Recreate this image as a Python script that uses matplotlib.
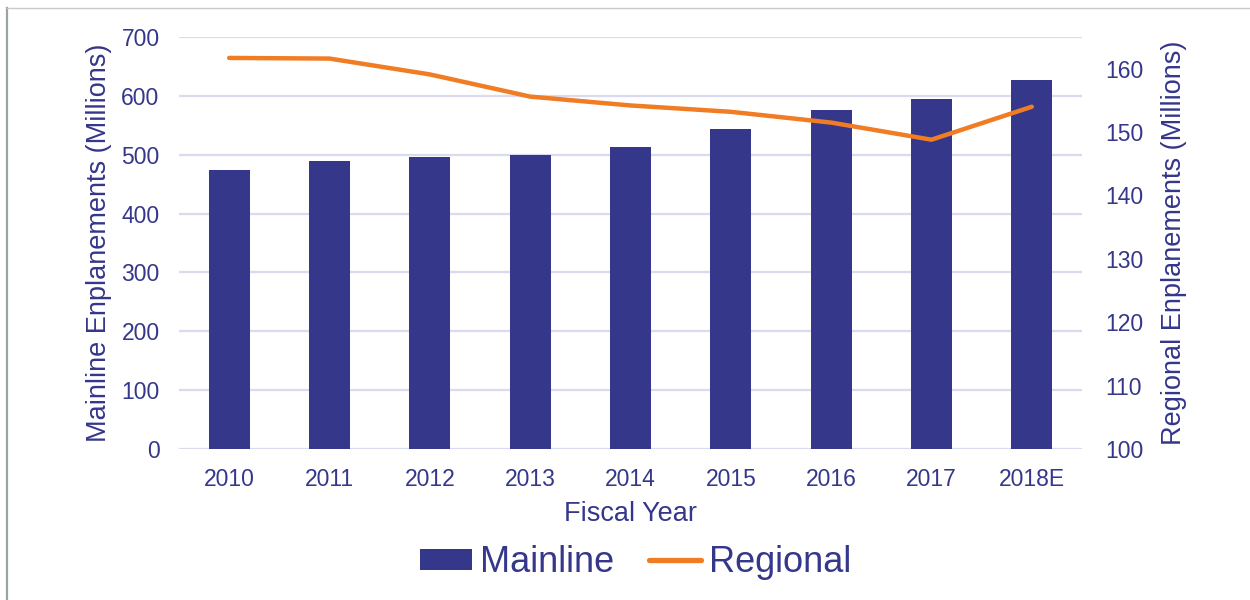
import matplotlib
matplotlib.use("Agg")
import matplotlib.pyplot as plt
from matplotlib.lines import Line2D
from matplotlib.patches import Patch

plt.rcParams['font.family'] = ['Liberation Sans', 'DejaVu Sans']

years = ["2010", "2011", "2012", "2013", "2014", "2015", "2016", "2017", "2018E"]
mainline = [474, 489, 496, 500, 513, 544, 576, 595, 627]
regional = [161.7, 161.6, 159.1, 155.6, 154.2, 153.2, 151.5, 148.8, 154.0]

navy = "#34378A"
orange = "#F07C24"
text_c = "#34378A"
grid_c = "#DADAF0"

fig = plt.figure(figsize=(12.5, 6), dpi=100)
ax = fig.add_axes([0.1432, 0.2517, 0.7224, 0.6866])
x = list(range(len(years)))
ax.bar(x, mainline, width=0.41, color=navy, zorder=2)
ax.set_xlim(-0.5, len(years) - 0.5)
ax.set_ylim(0, 700)
ax.set_yticks(range(0, 701, 100))
ax.grid(axis='y', color=grid_c, linewidth=1.6, zorder=0)
ax.set_axisbelow(True)
for s in ax.spines.values():
    s.set_visible(False)
ax.tick_params(axis='both', length=0, labelsize=16.5, colors=text_c)
ax.tick_params(axis='y', pad=14)
ax.tick_params(axis='x', pad=14)
ax.set_xticks(x)
ax.set_xticklabels(years)
ax.set_ylabel("Mainline Enplanements (Millions)", fontsize=19.5, color=text_c, labelpad=7)
ax.set_xlabel("Fiscal Year", fontsize=19.5, color=text_c, labelpad=7)

ax2 = ax.twinx()
ax2.plot(x, regional, color=orange, linewidth=3.2, solid_capstyle='round', zorder=3)
ax2.set_ylim(100, 165)
ax2.set_yticks(range(100, 161, 10))
for s in ax2.spines.values():
    s.set_visible(False)
ax2.tick_params(axis='y', length=0, labelsize=16.5, colors=text_c, pad=17)
ax2.set_ylabel("Regional Enplanements (Millions)", fontsize=19.5, color=text_c, labelpad=12)

handles = [Patch(facecolor=navy, edgecolor='none'),
           Line2D([0], [0], color=orange, linewidth=3.8, solid_capstyle='round')]
leg = fig.legend(handles, ["Mainline", "Regional"], loc='center', bbox_to_anchor=(0.5084, 0.062),
                 ncol=2, frameon=False, fontsize=26, handlelength=1.45, handleheight=0.55,
                 columnspacing=0.95, handletextpad=0.22)
for t in leg.get_texts():
    t.set_color(text_c)

fig.add_artist(Line2D([0.0056, 0.0056], [0, 0.987], transform=fig.transFigure, color="#9AA4A4", linewidth=1.6))
fig.add_artist(Line2D([0.0056, 1.0], [0.987, 0.987], transform=fig.transFigure, color="#C8CACA", linewidth=1.0))

fig.savefig("out.png", dpi=100)
